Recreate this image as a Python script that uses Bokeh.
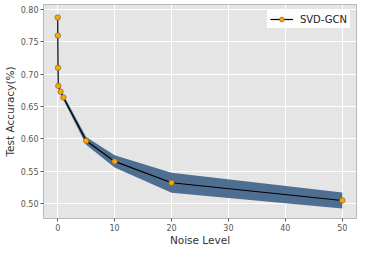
from bokeh.plotting import figure
from bokeh.models import FixedTicker, NumeralTickFormatter, Range1d, Legend, LegendItem
from bokeh.embed import file_html
from bokeh.resources import INLINE

# data
noise = [0, 0.01, 0.05, 0.1, 0.5, 1, 5, 10, 20, 50]
acc = [0.788, 0.760, 0.710, 0.682, 0.673, 0.664, 0.597, 0.565, 0.532, 0.5045]
std = [0.001, 0.001, 0.001, 0.002, 0.003, 0.004, 0.006, 0.0095, 0.0155, 0.0125]
x_ticks = [0, 10, 20, 30, 40, 50]
y_ticks = [0.50, 0.55, 0.60, 0.65, 0.70, 0.75, 0.80]
series_name = "SVD-GCN"

lower = [a - s for a, s in zip(acc, std)]
upper = [a + s for a, s in zip(acc, std)]

p = figure(width=358, height=248, output_backend="svg", toolbar_location=None,
           x_range=Range1d(-2.5, 52.5), y_range=Range1d(0.4766, 0.808),
           min_border_left=0, min_border_right=2, min_border_top=4, min_border_bottom=0)

p.background_fill_color = "#e5e5e5"
p.border_fill_color = "white"
p.outline_line_color = "#b8b8b8"
p.outline_line_width = 1

for g in (p.xgrid, p.ygrid):
    g.grid_line_color = "white"
    g.grid_line_width = 1
p.xgrid.ticker = FixedTicker(ticks=x_ticks)
p.ygrid.ticker = FixedTicker(ticks=y_ticks)

p.xaxis.ticker = FixedTicker(ticks=x_ticks)
p.yaxis.ticker = FixedTicker(ticks=y_ticks)
p.yaxis.formatter = NumeralTickFormatter(format="0.00")

for ax in (p.xaxis, p.yaxis):
    ax.axis_line_color = None
    ax.major_tick_line_color = "#555555"
    ax.major_tick_out = 3
    ax.major_tick_in = 0
    ax.minor_tick_line_color = None
    ax.major_label_text_font = "DejaVu Sans"
    ax.major_label_text_font_size = "8px"
    ax.major_label_text_color = "#555555"
    ax.major_label_standoff = 2
    ax.axis_label_text_font = "DejaVu Sans"
    ax.axis_label_text_font_size = "10.5px"
    ax.axis_label_text_font_style = "normal"
    ax.axis_label_text_color = "#333333"
p.xaxis.axis_label_standoff = 0
p.yaxis.axis_label_standoff = 2

p.xaxis.axis_label = "Noise Level"
p.yaxis.axis_label = "Test Accuracy(%)"

p.varea(x=noise, y1=lower, y2=upper, fill_color="#4f6f92", fill_alpha=1.0)
ln = p.line(noise, acc, line_color="black", line_width=1.2)
sc = p.scatter(noise, acc, size=5.5, fill_color="#ffa500", line_color="#6a5a3a", line_width=0.6)

legend = Legend(items=[LegendItem(label=series_name, renderers=[ln, sc])],
                location="top_right")
legend.margin = 6
legend.padding = 3
legend.spacing = 0
legend.glyph_width = 23
legend.glyph_height = 12
legend.label_standoff = 7
legend.label_text_font = "DejaVu Sans"
legend.label_text_font_size = "10px"
legend.label_text_color = "#222222"
legend.border_line_alpha = 0
legend.background_fill_color = "white"
legend.background_fill_alpha = 0.9
p.add_layout(legend)

open("out.html", "w").write(file_html(p, INLINE))
